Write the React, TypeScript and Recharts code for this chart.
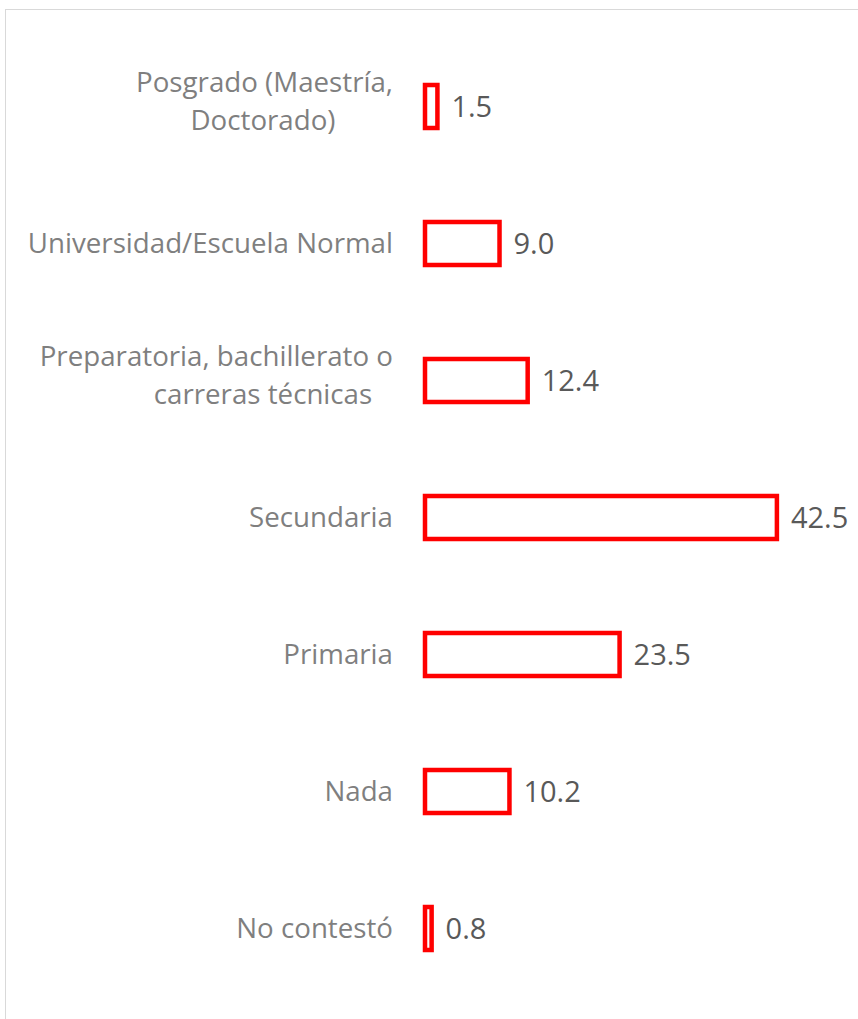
import { BarChart, Bar, XAxis, YAxis, LabelList } from 'recharts';

const categories = [
  'Posgrado (Maestría,\nDoctorado)',
  'Universidad/Escuela Normal',
  'Preparatoria, bachillerato o\ncarreras técnicas',
  'Secundaria',
  'Primaria',
  'Nada',
  'No contestó',
];

const values = [1.5, 9.0, 12.4, 42.5, 23.5, 10.2, 0.8];

const chartData = categories.map((name, i) => ({ name, value: values[i] }));

const FONT = "'Open Sans', sans-serif";

const CategoryTick = (props: any) => {
  const { x, y, payload } = props;
  const lines: string[] = String(payload.value).split('\n');
  if (lines.length === 1) {
    return (
      <text x={x} y={y} dy="0.36em" textAnchor="end" fill="#7f7f7f" fontSize={27.7} fontFamily={FONT}>
        {lines[0]}
      </text>
    );
  }
  // wrapped label: first line right-aligned, the rest centred beneath
  return (
    <g>
      {lines.map((line, i) => (
        <text
          key={i}
          x={i === 0 ? x : x - 130}
          y={y - 15 + i * 38}
          textAnchor={i === 0 ? 'end' : 'middle'}
          fill="#7f7f7f"
          fontSize={27.7}
          fontFamily={FONT}
        >
          {line}
        </text>
      ))}
    </g>
  );
};

export default function App() {
  return (
    <div
      style={{
        position: 'fixed',
        left: 0,
        top: 0,
        width: 858,
        height: 1019,
        overflow: 'hidden',
        background: '#fff',
      }}
    >
      <div
        style={{
          position: 'absolute',
          left: 5,
          top: 9,
          width: 900,
          height: 1100,
          border: '1.5px solid #d9d9d9',
          boxSizing: 'border-box',
        }}
      />
      <div style={{ position: 'absolute', left: 0, top: 0 }}>
        <BarChart
          width={858}
          height={1019}
          data={chartData}
          layout="vertical"
          margin={{ top: 38, right: 19, bottom: 22, left: 0 }}
        >
          <XAxis type="number" domain={[0, 50]} hide />
          <YAxis
            type="category"
            dataKey="name"
            width={425}
            axisLine={false}
            tickLine={false}
            tickSize={0}
            tickMargin={32}
            interval={0}
            tick={<CategoryTick />}
          />
          <Bar
            dataKey="value"
            fill="#ffffff"
            stroke="#ff0000"
            strokeWidth={4.5}
            barSize={43}
            isAnimationActive={false}
          >
            <LabelList
              dataKey="value"
              position="right"
              offset={14}
              formatter={(v: any) => Number(v).toFixed(1)}
              fill="#595959"
              fontSize={29}
              fontFamily={FONT}
            />
          </Bar>
        </BarChart>
      </div>
    </div>
  );
}
